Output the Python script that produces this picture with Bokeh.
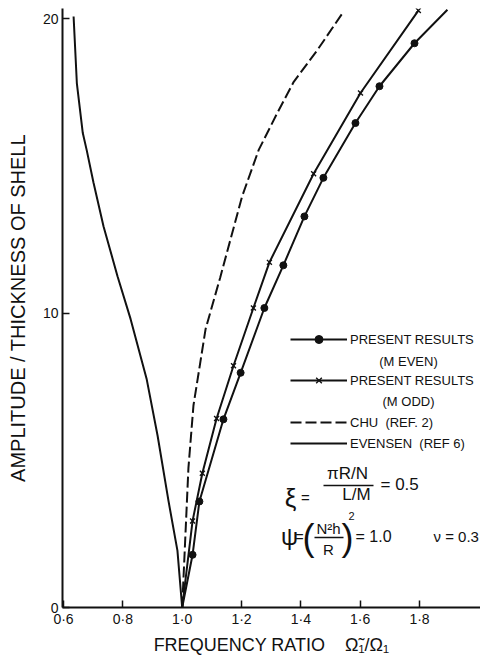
from bokeh.plotting import figure
from bokeh.models import (Legend, LegendItem, Label, BoxAnnotation, FixedTicker,
                          Range1d)
from bokeh.embed import file_html
from bokeh.resources import INLINE

# ---------------- data ----------------
x_ticks = [0.6, 0.8, 1.0, 1.2, 1.4, 1.6, 1.8]
x_tick_labels = ["0·6", "0·8", "1·0", "1·2", "1·4", "1·6", "1·8"]
y_ticks = [0, 10, 20]
y_tick_labels = ["0", "10", "20"]

# Present results, M even (dots)
even_x = [1.035, 1.058, 1.139, 1.197, 1.277, 1.341, 1.412, 1.476, 1.584, 1.665, 1.783]
even_y = [1.79, 3.60, 6.39, 7.97, 10.17, 11.62, 13.28, 14.59, 16.45, 17.70, 19.16]
even_curve_x = [1.0, 1.035, 1.058, 1.139, 1.197, 1.277, 1.341, 1.412, 1.476, 1.584, 1.665, 1.783, 1.894]
even_curve_y = [0.0, 1.79, 3.60, 6.39, 7.97, 10.17, 11.62, 13.28, 14.59, 16.45, 17.70, 19.16, 20.30]

# Present results, M odd (crosses)
odd_x = [1.035, 1.068, 1.116, 1.173, 1.240, 1.294, 1.443, 1.601, 1.796]
odd_y = [2.94, 4.56, 6.42, 8.21, 10.17, 11.72, 14.73, 17.47, 20.27]
odd_curve_x = [1.0, 1.035, 1.068, 1.116, 1.173, 1.240, 1.294, 1.443, 1.601, 1.796]
odd_curve_y = [0.0, 2.94, 4.56, 6.42, 8.21, 10.17, 11.72, 14.73, 17.47, 20.27]

# Chu (Ref. 2), dashed
chu_x = [1.0, 1.021, 1.038, 1.079, 1.128, 1.202, 1.258, 1.320, 1.376, 1.455, 1.539]
chu_y = [0.0, 4.73, 6.86, 9.46, 11.20, 13.96, 15.54, 16.78, 17.85, 18.92, 20.16]

# Evensen (Ref 6), solid, softening branch
evensen_x = [1.0, 0.984, 0.954, 0.917, 0.880, 0.826, 0.782, 0.735, 0.701, 0.678, 0.665, 0.645, 0.634]
evensen_y = [0.0, 1.93, 3.61, 5.84, 7.77, 9.80, 11.25, 12.94, 14.43, 15.54, 16.11, 17.80, 20.07]

FONT = "Liberation Sans"
INK = "#111111"
NB = "\u00a0"

p = figure(width=480, height=657, x_range=Range1d(0.5966, 2.0055), y_range=Range1d(0, 20.34),
           output_backend="svg", toolbar_location=None,
           min_border_left=62, min_border_right=0, min_border_top=8, min_border_bottom=47)
p.outline_line_color = None
p.grid.visible = False
p.background_fill_color = "white"

# axes
p.xaxis.ticker = FixedTicker(ticks=x_ticks)
p.xaxis.major_label_overrides = {t: l for t, l in zip(x_ticks, x_tick_labels)}
p.yaxis.ticker = FixedTicker(ticks=y_ticks)
p.yaxis.major_label_overrides = {t: l for t, l in zip(y_ticks, y_tick_labels)}
for ax in (p.xaxis, p.yaxis):
    ax.major_tick_in = 7
    ax.major_tick_out = 0
    ax.minor_tick_in = 0
    ax.minor_tick_out = 0
    ax.axis_line_width = 2
    ax.axis_line_color = INK
    ax.major_tick_line_color = INK
    ax.major_tick_line_width = 1.5
    ax.major_label_text_font = FONT
    ax.major_label_text_font_size = "14px"
    ax.major_label_text_color = INK
    ax.major_label_standoff = 4
    ax.axis_label_text_font = FONT
    ax.axis_label_text_font_style = "normal"
    ax.axis_label_text_color = INK
p.xaxis.major_label_standoff = 3
p.xaxis.axis_label = "FREQUENCY RATIO" + NB * 4 + "Ω̃₁/Ω₁"
p.xaxis.axis_label_text_font_size = "18px"
p.xaxis.axis_label_standoff = 5
p.yaxis.axis_label = "AMPLITUDE / THICKNESS OF SHELL"
p.yaxis.axis_label_text_font_size = "20px"
p.yaxis.axis_label_standoff = 11

# curves
r_ev = p.line(evensen_x, evensen_y, line_width=2, color=INK)
r_chu = p.line(chu_x, chu_y, line_width=2, color=INK, line_dash="11 4")
r_odd_l = p.line(odd_curve_x, odd_curve_y, line_width=2, color=INK)
r_odd_p = p.scatter(odd_x, odd_y, marker="x", size=7, line_width=1.4, color=INK)
r_even_l = p.line(even_curve_x, even_curve_y, line_width=2, color=INK)
r_even_p = p.scatter(even_x, even_y, marker="circle", size=7, color=INK)

def style_legend(lg):
    lg.background_fill_alpha = 0
    lg.border_line_color = None
    lg.padding = 0
    lg.margin = 0
    lg.glyph_width = 57
    lg.glyph_height = 20
    lg.label_height = 20
    lg.label_standoff = 3
    lg.label_text_font = FONT
    lg.label_text_font_size = "13px"
    lg.label_text_color = INK

leg_a = Legend(items=[LegendItem(label="PRESENT RESULTS", renderers=[r_even_l, r_even_p]),
                      LegendItem(label="PRESENT RESULTS", renderers=[r_odd_l, r_odd_p])],
               location=(228, 217), spacing=21)
style_legend(leg_a)
leg_b = Legend(items=[LegendItem(label="CHU  (REF. 2)", renderers=[r_chu]),
                      LegendItem(label="EVENSEN  (REF 6)", renderers=[r_ev])],
               location=(228, 154), spacing=1)
style_legend(leg_b)
p.add_layout(leg_a)
p.add_layout(leg_b)

def lab(x, y, text, size, align="center", baseline="middle"):
    p.add_layout(Label(x=x, y=y, x_units="screen", y_units="screen", text=text,
                       text_font=FONT, text_font_size=size, text_color=INK,
                       text_align=align, text_baseline=baseline))

def bar(x0, x1, y):
    p.add_layout(BoxAnnotation(left=x0, right=x1, bottom=y - 0.8, top=y + 0.8,
                               left_units="screen", right_units="screen",
                               top_units="screen", bottom_units="screen",
                               fill_color=INK, fill_alpha=1, line_color=None))

# legend sub-lines (screen coords relative to plot frame: x from left, y from bottom)
lab(346, 246, "(M EVEN)", "13px")
lab(346, 206, "(M ODD)", "13px")

# parameter annotations
lab(228, 110, "ξ", "26px")
lab(243, 110, "=", "15px")
lab(285, 134, "πR/N", "17px")
bar(261, 311, 122)
lab(294, 113, "L/M", "17px")
lab(318, 123, "= 0.5", "17px", align="left")

lab(227, 71, "ψ", "24px")
lab(237, 71, "=", "14px")
lab(246, 70, "(", "36px")
lab(266, 79, "N²h", "15px")
bar(252, 281, 70)
lab(266, 58, "R", "15px")
lab(285, 70, ")", "36px")
lab(289, 92, "2", "11px")
lab(293, 71, "= 1.0", "16px", align="left")
lab(371, 71, "ν = 0.3", "15px", align="left")

open("out.html", "w").write(file_html(p, INLINE))
